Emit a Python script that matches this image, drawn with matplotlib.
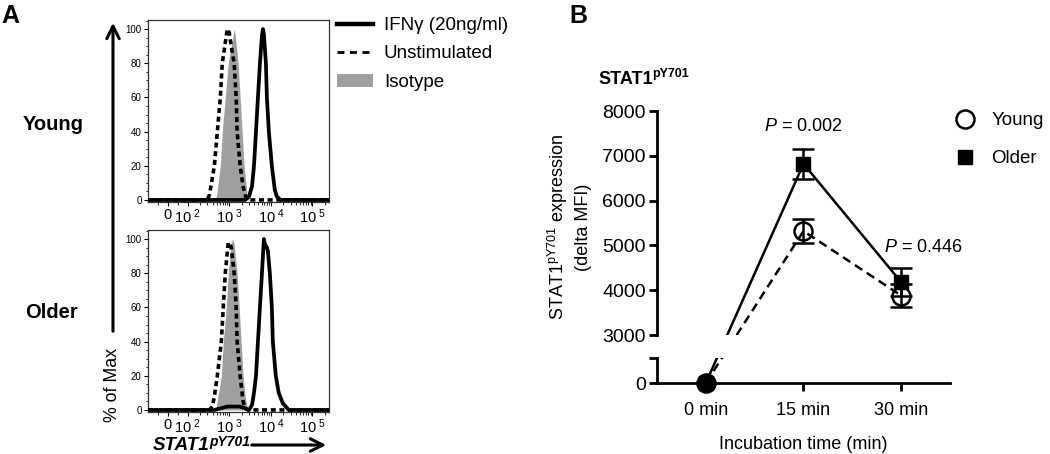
import numpy as np
import matplotlib
matplotlib.use("Agg")
import matplotlib.pyplot as plt
from matplotlib.lines import Line2D
from matplotlib.patches import Patch, FancyArrowPatch
from matplotlib.ticker import FixedLocator, MultipleLocator

plt.rcParams['font.family'] = ['Liberation Sans', 'DejaVu Sans']
plt.rcParams['mathtext.fontset'] = 'custom'
plt.rcParams['mathtext.rm'] = 'Liberation Sans'
plt.rcParams['mathtext.it'] = 'Liberation Sans:italic'
plt.rcParams['mathtext.bf'] = 'Liberation Sans:bold'

# ---- panel A: histograms (x = log10 intensity, y = % of max) ----
young_iso_log = [2.619, 2.690, 2.786, 2.833, 2.905, 2.976, 3.048, 3.119, 3.143,
                 3.214, 3.262, 3.310, 3.357, 3.429, 3.476]
young_iso_pct = [0, 2, 20, 40, 60, 80, 90, 100, 97, 80, 60, 40, 20, 3, 0]
young_uns_log = [2.476, 2.524, 2.643, 2.714, 2.786, 2.833, 2.905, 2.952, 3.0,
                 3.048, 3.119, 3.167, 3.190, 3.262, 3.333, 3.405, 3.476]
young_uns_pct = [0, 3, 20, 40, 60, 80, 92, 100, 98, 90, 80, 60, 40, 20, 8, 1, 0]
young_ifn_log = [3.381, 3.476, 3.548, 3.595, 3.643, 3.690, 3.738, 3.786, 3.810,
                 3.833, 3.881, 3.905, 3.952, 4.024, 4.095, 4.143, 4.238]
young_ifn_pct = [0, 2, 8, 20, 40, 60, 80, 96, 100, 97, 80, 60, 40, 20, 6, 2, 0]

older_iso_log = [2.619, 2.690, 2.810, 2.857, 2.929, 2.976, 3.024, 3.071, 3.119,
                 3.190, 3.238, 3.286, 3.333, 3.381, 3.429, 3.476]
older_iso_pct = [0, 2, 20, 40, 60, 80, 92, 100, 97, 80, 60, 40, 20, 8, 2, 0]
older_uns_log = [2.524, 2.595, 2.643, 2.714, 2.810, 2.857, 2.905, 2.976, 3.024,
                 3.048, 3.119, 3.167, 3.190, 3.262, 3.333, 3.381, 3.452]
older_uns_pct = [0, 2, 8, 20, 40, 60, 80, 98, 97, 95, 80, 60, 40, 20, 5, 1, 0]
older_ifn_log = [2.643, 2.810, 2.952, 3.238, 3.381, 3.476, 3.548, 3.595, 3.643,
                 3.690, 3.738, 3.786, 3.833, 3.857, 3.905, 3.929, 3.976, 4.024,
                 4.048, 4.119, 4.190, 4.286, 4.429]
older_ifn_pct = [0, 1, 2, 2, 1, 0, 3, 10, 20, 40, 60, 80, 100, 97, 95, 93, 80,
                 60, 40, 20, 10, 4, 0]

flow_ticks = [0, 1e2, 1e3, 1e4, 1e5]
flow_labels = ['0', r'10$^{\ 2}$', r'10$^{\ 3}$', r'10$^{\ 4}$', r'10$^{\ 5}$']

# ---- panel B: delta MFI ----
times = ['0 min', '15 min', '30 min']
young_mean = [0, 5320, 3880]
young_sem = [0, 270, 255]
older_mean = [0, 6820, 4180]
older_sem = [0, 330, 310]
p_values = ['0.002', '0.446']

W, H = 1050, 454
fig = plt.figure(figsize=(W / 100, H / 100), dpi=100)


def fx(px):
    return px / W


def fy(py):
    return 1 - py / H


X_LO, X_HI = -100, 2.5e5
GRAY = '#a0a0a0'


def draw_hist(ax, iso, uns, ifn):
    def xs(e):
        return np.concatenate([[X_LO], 10 ** np.array(e), [X_HI]])

    def ys(p):
        return np.concatenate([[0], p, [0]])

    ax.fill_between(xs(iso[0]), ys(iso[1]), color=GRAY, lw=0, zorder=1)
    ax.plot(xs(uns[0]), ys(uns[1]), color='black', ls='--', dashes=(1.4, 1.0),
            lw=2.6, zorder=2)
    ax.plot(xs(ifn[0]), ys(ifn[1]), color='black', lw=2.7, zorder=3)
    ax.set_xscale('symlog', linthresh=100, linscale=0.4286)
    ax.set_xlim(X_LO, X_HI)
    ax.set_ylim(-1.2, 105.3)
    ax.set_xticks(flow_ticks)
    ax.set_xticklabels(flow_labels, fontsize=10.5)
    minors = [k * 10 ** d for d in range(2, 6) for k in range(2, 10)]
    minors += [-50, 50]
    ax.xaxis.set_minor_locator(FixedLocator(minors))
    ax.set_yticks(range(0, 101, 20))
    ax.yaxis.set_minor_locator(MultipleLocator(5))
    ax.tick_params(axis='y', labelsize=7, length=3, width=0.8, pad=1.5)
    ax.tick_params(axis='x', length=3, width=0.8, pad=1)
    ax.tick_params(which='minor', length=1.8, width=0.6)
    for s in ax.spines.values():
        s.set_linewidth(0.9)
        s.set_color('#333333')


ax_a1 = fig.add_axes([fx(148), fy(202), 181 / W, 182 / H])
ax_a2 = fig.add_axes([fx(148), fy(412), 181 / W, 182 / H])
draw_hist(ax_a1, (young_iso_log, young_iso_pct), (young_uns_log, young_uns_pct),
          (young_ifn_log, young_ifn_pct))
draw_hist(ax_a2, (older_iso_log, older_iso_pct), (older_uns_log, older_uns_pct),
          (older_ifn_log, older_ifn_pct))

leg_a = [Line2D([], [], color='black', lw=3.2, label='IFN\u03b3 (20ng/ml)'),
         Line2D([], [], color='black', lw=2, ls='--', dashes=(2.5, 2), label='Unstimulated'),
         Patch(facecolor=GRAY, edgecolor='none', label='Isotype')]
fig.legend(handles=leg_a, loc='upper left', bbox_to_anchor=(fx(337), fy(17)),
           frameon=False, fontsize=13.5, handlelength=1.9, handletextpad=0.6,
           labelspacing=0.6, borderpad=0, borderaxespad=0)

fig.text(fx(10), fy(16), 'A', fontsize=18, weight='bold', ha='center', va='center')
fig.text(fx(53), fy(125), 'Young', fontsize=14.5, weight='bold', ha='center', va='center')
fig.text(fx(52), fy(313), 'Older', fontsize=14.5, weight='bold', ha='center', va='center')
fig.text(fx(112), fy(385), '% of Max', fontsize=12.8, rotation=90, ha='center', va='center')
fig.add_artist(FancyArrowPatch((fx(113), fy(334)), (fx(113), fy(20)),
                               transform=fig.transFigure,
                               arrowstyle='->,head_length=0.5,head_width=0.25',
                               mutation_scale=18, lw=2.2, color='black'))
t_x = fig.text(fx(153), fy(446), 'STAT1', fontsize=13.5, weight='bold', style='italic',
               ha='left', va='center')
ax_a2.annotate('pY701', xy=(1.0, 0.3), xycoords=t_x, ha='left', va='bottom',
               fontsize=10, weight='bold', style='italic', annotation_clip=False)
fig.add_artist(FancyArrowPatch((fx(249), fy(445)), (fx(329), fy(445)),
                               transform=fig.transFigure,
                               arrowstyle='->,head_length=0.5,head_width=0.25',
                               mutation_scale=18, lw=2.2, color='black'))

# ---- panel B: broken y axis ----
left_b, width_b = fx(657), (950 - 657) / W
ax_up = fig.add_axes([left_b, fy(335), width_b, (335 - 111) / H])
ax_lo = fig.add_axes([left_b, fy(383), width_b, (383 - 358) / H])
ax_up.set_ylim(3000, 8000)
upp = 5000 / (335 - 111)              # data units per pixel
lo_top = (383 - 358) * upp
ax_lo.set_ylim(0, lo_top)
shift = 3000 - (358 - 335) * upp - lo_top

xpos = np.arange(len(times))
for ax in (ax_up, ax_lo):
    ax.set_xlim(-0.5, 2.5)
    ax.patch.set_alpha(0)
    for s in ('top', 'right'):
        ax.spines[s].set_visible(False)
    ax.spines['left'].set_linewidth(2)
    ax.spines['bottom'].set_linewidth(2)
    ax.tick_params(width=2, length=6, labelsize=14, pad=2)
ax_up.spines['bottom'].set_visible(False)
ax_up.tick_params(axis='x', bottom=False, labelbottom=False)


def virtual(v):
    v = np.asarray(v, dtype=float)
    return np.where(v >= 3000, v, v + shift)


for ax, off in ((ax_up, 0), (ax_lo, shift)):
    ax.plot(xpos, virtual(older_mean) - off, color='black', lw=1.8, zorder=2)
    ax.plot(xpos, virtual(young_mean) - off, color='black', lw=1.8, ls='--',
            dashes=(3.5, 2.2), zorder=2)

ax_up.errorbar(xpos[1:], older_mean[1:], yerr=older_sem[1:], fmt='none', ecolor='black',
               elinewidth=1.8, capsize=8, capthick=1.8, zorder=3)
ax_up.errorbar(xpos[1:], young_mean[1:], yerr=young_sem[1:], fmt='none', ecolor='black',
               elinewidth=1.8, capsize=8, capthick=1.8, zorder=3)
ax_up.plot(xpos[1:], young_mean[1:], 'o', ms=13, mfc='none', mec='black', mew=1.8, zorder=4)
ax_up.plot(xpos[1:], older_mean[1:], 's', ms=10, color='black', zorder=5)
ax_lo.plot(xpos[:1], young_mean[:1], 'o', ms=13, mfc='black', mec='black', mew=1.8,
           zorder=4, clip_on=False)
ax_lo.plot(xpos[:1], older_mean[:1], 's', ms=10, color='black', zorder=5, clip_on=False)

ax_up.set_yticks(range(3000, 8001, 1000))
ax_lo.set_yticks([0, lo_top])
ax_lo.set_yticklabels(['0', ''])
ax_lo.set_xticks(xpos)
ax_lo.set_xticklabels(times, fontsize=13)
ax_lo.tick_params(axis='x', pad=8)
ax_lo.set_xlabel('Incubation time (min)', fontsize=13, labelpad=12)

ax_up.text(1, 7650, r'$\mathit{P}$ = ' + p_values[0], fontsize=13, ha='center', va='center')
ax_up.text(2.23, 4960, r'$\mathit{P}$ = ' + p_values[1], fontsize=13, ha='center', va='center')

leg_b = [Line2D([], [], marker='o', ls='none', ms=13, mfc='none', mec='black', mew=1.8,
                label='Young'),
         Line2D([], [], marker='s', ls='none', ms=10, color='black', label='Older')]
fig.legend(handles=leg_b, loc='upper left', bbox_to_anchor=(fx(956), fy(112)),
           frameon=False, fontsize=13.5, handlelength=1.0, handletextpad=0.9,
           labelspacing=1.12, borderpad=0, borderaxespad=0, numpoints=1)

fig.text(fx(578), fy(16), 'B', fontsize=18, weight='bold', ha='center', va='center')
t_b = fig.text(fx(598), fy(80), 'STAT1', fontsize=13, weight='bold', ha='left', va='center')
ax_up.annotate('pY701', xy=(1.0, 0.5), xycoords=t_b, ha='left', va='bottom',
               fontsize=9, weight='bold', annotation_clip=False)
fig.text(fx(558), fy(227), r'STAT1$^{\mathregular{pY701}}$ expression', fontsize=13,
         rotation=90, ha='center', va='center')
fig.text(fx(583), fy(227), '(delta MFI)', fontsize=13, rotation=90, ha='center', va='center')

fig.savefig('out.png', dpi=100)
